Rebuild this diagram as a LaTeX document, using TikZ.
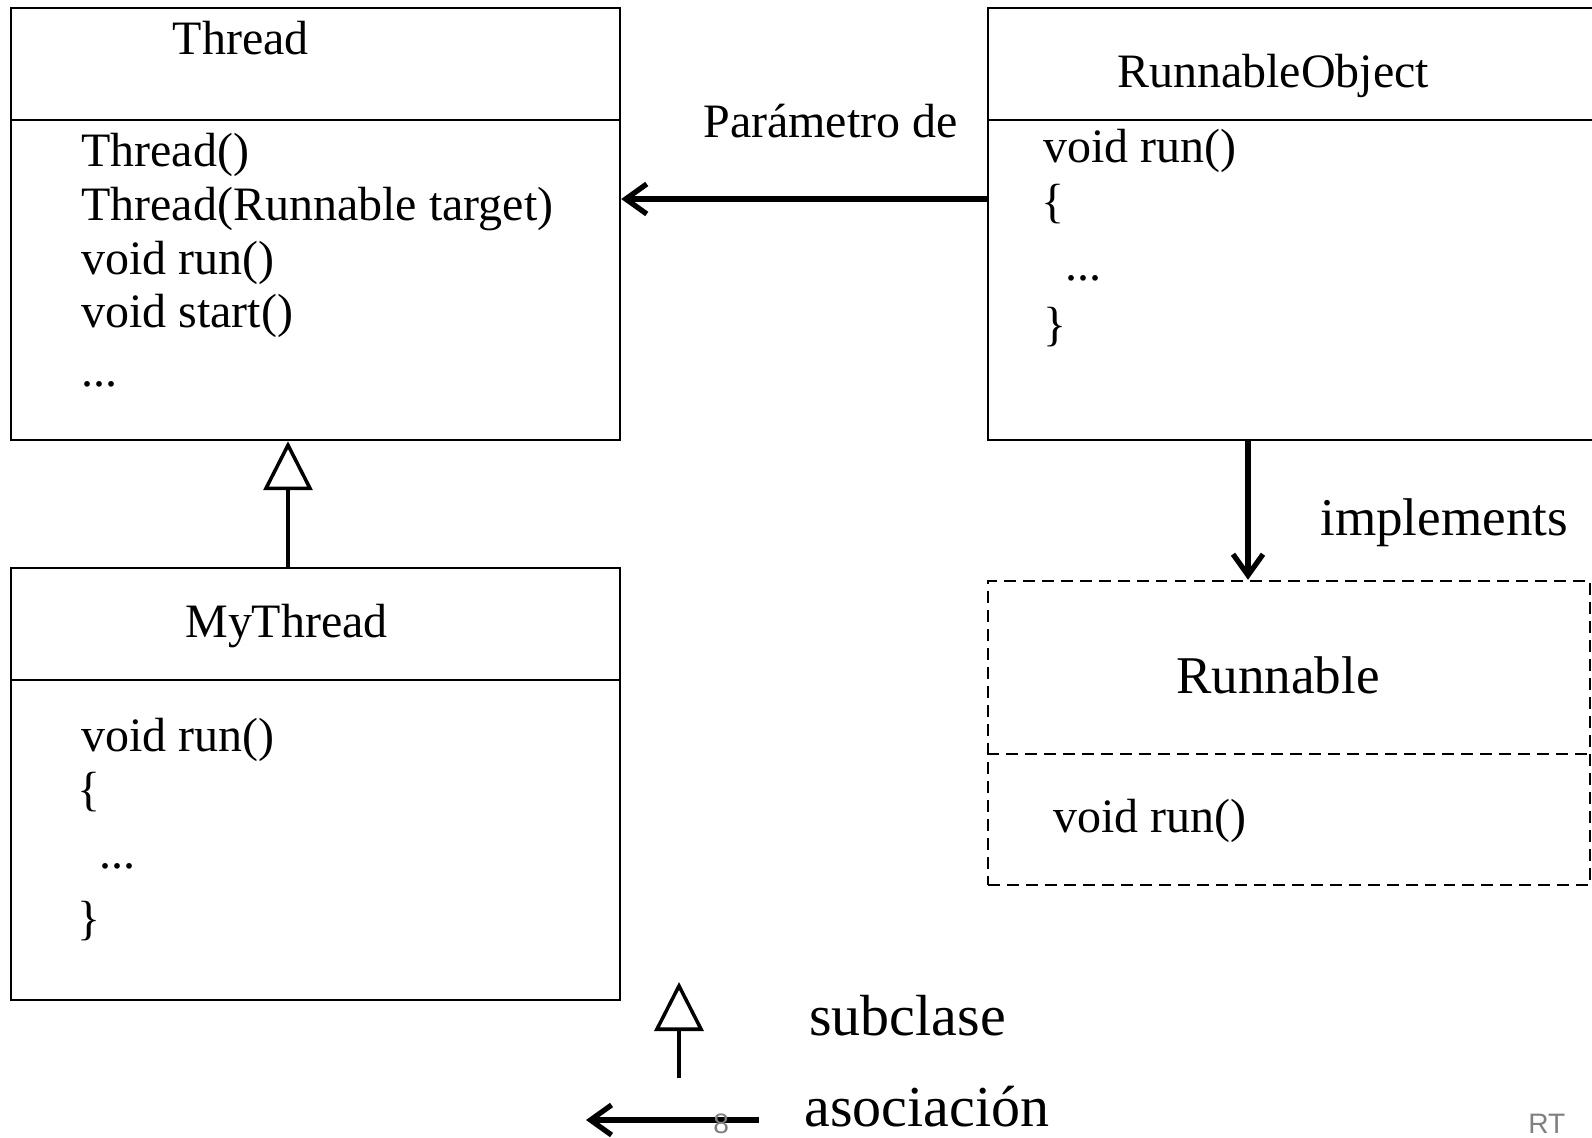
\documentclass[tikz,border=0pt]{standalone}
\usepackage{fontspec}
\setmainfont{Liberation Serif}
\newfontfamily\pagefont{Liberation Sans}
\usetikzlibrary{arrows.meta, positioning}
\definecolor{pagegray}{RGB}{128,128,128}
\newcommand{\membersize}{\fontsize{27.3pt}{32pt}\selectfont}
\newcommand{\relationsize}{\fontsize{30.2pt}{36pt}\selectfont}
\newcommand{\legendsize}{\fontsize{33pt}{40pt}\selectfont}
\tikzset{
  classbox/.style={shape=rectangle, draw, line width=1.4pt, minimum width=12.18cm},
  ifacedash/.style={line width=1.4pt, dash pattern=on 6.8pt off 4pt},
  ifacebox/.style={shape=rectangle, draw, ifacedash, minimum width=12.04cm},
  member/.style={anchor=base west, inner sep=0pt, font=\membersize},
  assoc/.style={-{Straight Barb[length=0.42cm, width=0.6cm]}, line width=3pt},
  inherit/.style={-{Triangle[fill=white, length=0.98cm, width=0.98cm]}, line width=2pt},
  pagemark/.style={anchor=base west, inner sep=0pt, text=pagegray, font=\pagefont\fontsize{16pt}{19pt}\selectfont}
}

\begin{document}
\begin{tikzpicture}
			\useasboundingbox (0,0) rectangle (31.84,-22.76);
			% Thread class:
			\node[classbox, minimum height=2.24cm] (threadhead) at (6.31,-1.28){};
			\node[classbox, minimum height=6.40cm] (threadbody) at (6.31,-5.60){};
			\node[member] (threadname) at (3.45,-1.10){Thread};
			\node[member] (threadctor) at (1.62,-3.34){Thread()};
			\node[member] (threadtarget) at (1.62,-4.42){Thread(Runnable target)};
			\node[member] (threadrun) at (1.62,-5.50){void run()};
			\node[member] (threadstart) at (1.62,-6.56){void start()};
			\node[member] (threaddots) at (1.62,-7.74){...};
			% MyThread class:
			\node[classbox, minimum height=2.24cm] (mythead) at (6.31,-12.48){};
			\node[classbox, minimum height=6.40cm] (mytbody) at (6.31,-16.80){};
			\node[member] (mytname) at (3.70,-12.76){MyThread};
			\node[member] (mytrun) at (1.62,-15.02){void run()};
			\node[member] (mytopen) at (1.54,-16.10){\{};
			\node[member] (mytdots) at (1.98,-17.36){...};
			\node[member] (mytclose) at (1.54,-18.68){\}};
			% RunnableObject class:
			\node[classbox, minimum width=12.54cm, minimum height=2.24cm] (robjhead) at (26.03,-1.28){};
			\node[classbox, minimum width=12.54cm, minimum height=6.40cm] (robjbody) at (26.03,-5.60){};
			\node[member] (robjname) at (22.34,-1.76){RunnableObject};
			\node[member] (robjrun) at (20.86,-3.26){void run()};
			\node[member] (robjopen) at (20.82,-4.36){\{};
			\node[member] (robjdots) at (21.30,-5.62){...};
			\node[member] (robjclose) at (20.86,-6.82){\}};
			% Runnable interface:
			\node[ifacebox, minimum height=6.08cm] (runbox) at (25.78,-14.66){};
			\draw[ifacedash] ([yshift=-3.48cm]runbox.north west) -- ([yshift=-3.48cm]runbox.north east);
			\node[member, font=\relationsize] (runname) at (23.52,-13.86){Runnable};
			\node[member] (runrun) at (21.06,-16.64){void run()};
			% Relations:
			\draw[assoc] ([yshift=1.62cm]robjbody.west) -- ([yshift=1.62cm]threadbody.east);
			\node[member] (paramlabel) at (14.06,-2.76){Parámetro de};
			\draw[assoc] ([xshift=-1.07cm]robjbody.south) -- ([xshift=-1.07cm]robjbody.south |- runbox.north);
			\node[member, font=\relationsize] (impllabel) at (26.40,-10.72){implements};
			\draw[inherit] ([xshift=-0.55cm]mythead.north) -- ([xshift=-0.55cm]mythead.north |- threadbody.south);
			% Legend:
			\coordinate (subfrom) at (13.58,-21.56);
			\coordinate (subto) at (13.58,-19.64);
			\draw[inherit] (subfrom) -- (subto);
			\node[member, font=\legendsize] (sublabel) at (16.18,-20.70){subclase};
			\coordinate (assocfrom) at (15.18,-22.40);
			\coordinate (assocto) at (11.72,-22.40);
			\draw[assoc] (assocfrom) -- (assocto);
			\node[member, font=\legendsize] (assoclabel) at (16.08,-22.52){asociación};
			% Page marks:
			\node[pagemark] (pagenum) at (14.26,-22.66){8};
			\node[pagemark] (pageauthor) at (30.56,-22.66){RT};
		\end{tikzpicture}
\end{document}
